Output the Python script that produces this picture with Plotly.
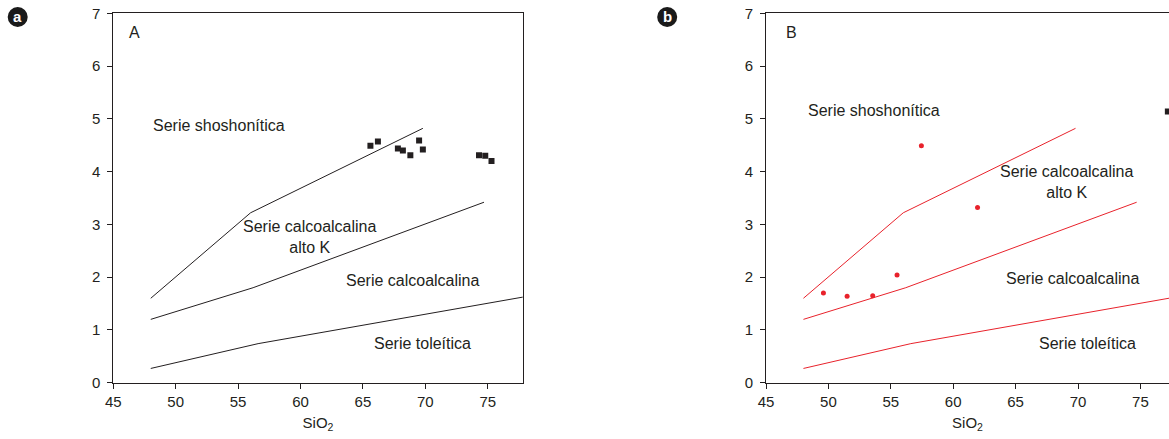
import plotly.graph_objects as go

# ---- data ----
sio2_a = [65.6, 66.2, 67.8, 68.2, 68.8, 69.5, 69.8, 74.3, 74.8, 75.3]
k2o_a = [4.49, 4.57, 4.44, 4.40, 4.31, 4.59, 4.42, 4.31, 4.30, 4.20]

sio2_b = [49.6, 51.5, 53.55, 55.5, 57.45, 61.95]
k2o_b = [1.70, 1.64, 1.65, 2.04, 4.49, 3.32]
sio2_b_black = [77.2]
k2o_b_black = [5.14]

# boundary lines (SiO2, K2O)
sho_x = [48, 56, 69.8]
sho_y = [1.6, 3.22, 4.82]
hk_x = [48, 56.2, 74.7]
hk_y = [1.2, 1.8, 3.42]
th_x = [48, 56.6, 78]
th_y = [0.27, 0.74, 1.63]

x_ticks = [45, 50, 55, 60, 65, 70, 75]
y_ticks = [0, 1, 2, 3, 4, 5, 6, 7]

labels_a = [
    ("A", 46.66, 6.63),
    ("Serie shoshonítica", 53.45, 4.87),
    ("Serie calcoalcalina<br>alto K", 60.74, 2.76),
    ("Serie calcoalcalina", 69.0, 1.94),
    ("Serie toleítica", 69.74, 0.74),
]
labels_b = [
    ("B", 47.08, 6.63),
    ("Serie shoshonítica", 53.65, 5.15),
    ("Serie calcoalcalina<br>alto K", 69.12, 3.80),
    ("Serie calcoalcalina", 69.6, 1.97),
    ("Serie toleítica", 70.8, 0.75),
]

INK = "#231f20"
RED = "#e8222b"
W, H = 1169, 439
FONT = "Liberation Sans, Arial, sans-serif"

fig = go.Figure()

for xs, ys in [(sho_x, sho_y), (hk_x, hk_y), (th_x, th_y)]:
    fig.add_trace(go.Scatter(x=xs, y=ys, mode="lines", line=dict(color=INK, width=1),
                             xaxis="x", yaxis="y", showlegend=False, hoverinfo="skip"))
    fig.add_trace(go.Scatter(x=xs, y=ys, mode="lines", line=dict(color=RED, width=1),
                             xaxis="x2", yaxis="y2", showlegend=False, hoverinfo="skip"))

fig.add_trace(go.Scatter(x=sio2_a, y=k2o_a, mode="markers",
                         marker=dict(symbol="square", size=6, color=INK),
                         xaxis="x", yaxis="y", showlegend=False))
fig.add_trace(go.Scatter(x=sio2_b, y=k2o_b, mode="markers",
                         marker=dict(symbol="circle", size=5, color=RED),
                         xaxis="x2", yaxis="y2", showlegend=False))
fig.add_trace(go.Scatter(x=sio2_b_black, y=k2o_b_black, mode="markers",
                         marker=dict(symbol="square", size=6, color=INK),
                         xaxis="x2", yaxis="y2", showlegend=False))

tickfont = dict(family=FONT, size=15, color=INK)
ydom = [(439 - 382.7) / H, (439 - 13.3) / H]

common_x = dict(tickvals=x_ticks, ticks="outside", ticklen=5, tickcolor=INK, tickwidth=1,
                showline=True, linecolor=INK, linewidth=1, showgrid=False, zeroline=False,
                tickfont=tickfont, automargin=False,
                title=dict(text="SiO<sub>2</sub>", font=dict(family=FONT, size=15, color=INK), standoff=8))
common_y = dict(tickvals=y_ticks, ticks="outside", ticklen=5, tickcolor=INK, tickwidth=1,
                showline=True, linecolor=INK, linewidth=1, showgrid=False, zeroline=False,
                tickfont=tickfont, range=[0, 7], domain=ydom, automargin=False,
                ticklabelstandoff=4)

fig.update_layout(
    width=W, height=H,
    margin=dict(l=0, r=0, t=0, b=0, pad=0, autoexpand=False),
    paper_bgcolor="white", plot_bgcolor="white",
    xaxis=dict(common_x, domain=[113.3 / W, 522.7 / W], range=[45, 77.8], mirror=True, anchor="y"),
    yaxis=dict(common_y, mirror=True, anchor="x"),
    xaxis2=dict(common_x, domain=[766 / W, 1.0], range=[45, 45 + (1169 - 766) / 12.48], mirror=True, anchor="y2"),
    yaxis2=dict(common_y, mirror=False, anchor="x2"),
)

font_lbl = dict(family=FONT, size=16, color=INK)
for (t, x, y) in labels_a:
    fig.add_annotation(text=t, x=x, y=y, xref="x", yref="y", showarrow=False, font=font_lbl)
for (t, x, y) in labels_b:
    fig.add_annotation(text=t, x=x, y=y, xref="x2", yref="y2", showarrow=False, font=font_lbl)

# badges
for letter, cx in [("a", 17.7), ("b", 667.2)]:
    cy = 17
    r = 10
    fig.add_shape(type="circle", xref="paper", yref="paper", layer="below",
                  x0=(cx - r) / W, x1=(cx + r) / W, y0=1 - (cy + r) / H, y1=1 - (cy - r) / H,
                  fillcolor="#1a1a1a", line=dict(width=0))
    fig.add_annotation(text="<b>%s</b>" % letter, x=cx / W, y=1 - cy / H, xref="paper", yref="paper",
                       xanchor="center", yanchor="middle",
                       showarrow=False, font=dict(family=FONT, size=15, color="white"))

fig.write_html("out.html")
